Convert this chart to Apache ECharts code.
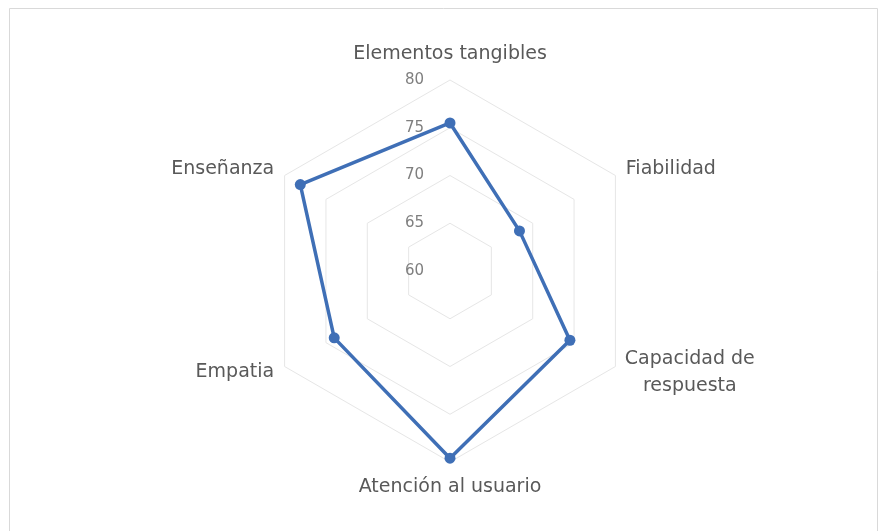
<!DOCTYPE html>
<html>
<head>
<meta charset="utf-8">
<script src="https://cdn.jsdelivr.net/npm/echarts@6/dist/echarts.min.js"></script>
<style>
  html, body { margin: 0; padding: 0; background: #ffffff; }
  #chart { width: 879px; height: 531px; }
</style>
</head>
<body>
<div id="chart"></div>
<script>
// Dimensions of the service-quality survey, clockwise from the top
const categories = [
  'Elementos tangibles',
  'Fiabilidad',
  'Capacidad de\nrespuesta',
  'Atención al usuario',
  'Empatia',
  'Enseñanza'
];
// Score per dimension, same order as the categories
const scores = [75.5, 68.4, 74.5, 79.6, 74.0, 78.1];
// Scale of the radial axis
const axisMin = 60;
const axisMax = 80;
const axisStep = 5;

// ECharts lays radar spokes out counter-clockwise; walk the lists
// backwards after the first entry so they read clockwise.
const order = [0].concat(categories.slice(1).map(function (_, i) {
  return categories.length - 1 - i;
}));

const indicator = order.map(function (idx, i) {
  const ind = { name: categories[idx], min: axisMin, max: axisMax };
  // tick values are written along the top spoke only
  if (i === 0) {
    ind.axisLabel = { show: true };
  }
  return ind;
});
const values = order.map(function (idx) { return scores[idx]; });

const chart = echarts.init(document.getElementById('chart'), null, { renderer: 'canvas' });

chart.setOption({
  backgroundColor: '#ffffff',
  animation: false,
  graphic: [{
    type: 'rect',
    shape: { x: 9.5, y: 8.5, width: 868, height: 540 },
    style: { fill: 'none', stroke: '#d9d9d9', lineWidth: 1 },
    silent: true
  }],
  radar: {
    center: [450, 271],
    radius: 191,
    startAngle: 90,
    shape: 'polygon',
    splitNumber: (axisMax - axisMin) / axisStep,
    indicator: indicator,
    axisName: {
      color: '#595959',
      fontFamily: 'DejaVu Sans',
      fontSize: 19,
      lineHeight: 27,
      // multi-line names are centred line by line
      formatter: function (name) {
        if (name.indexOf('\n') < 0) return name;
        return name.split('\n').map(function (line) {
          return '{ml|' + line + '}';
        }).join('\n');
      },
      rich: {
        ml: {
          width: 128,
          align: 'center',
          color: '#595959',
          fontFamily: 'DejaVu Sans',
          fontSize: 19,
          lineHeight: 27
        }
      }
    },
    nameGap: 12,
    axisLine: { show: false },
    axisTick: { show: false },
    axisLabel: {
      show: false,
      color: '#7f7f7f',
      fontFamily: 'DejaVu Sans',
      fontSize: 15,
      margin: 26
    },
    splitLine: { lineStyle: { color: '#e6e6e6', width: 1 } },
    splitArea: { show: false }
  },
  series: [{
    type: 'radar',
    symbol: 'circle',
    symbolSize: 11,
    lineStyle: { color: '#3f6fb6', width: 3.5 },
    itemStyle: { color: '#3f6fb6' },
    data: [{ value: values, name: 'Puntuación' }]
  }]
});
</script>
</body>
</html>
